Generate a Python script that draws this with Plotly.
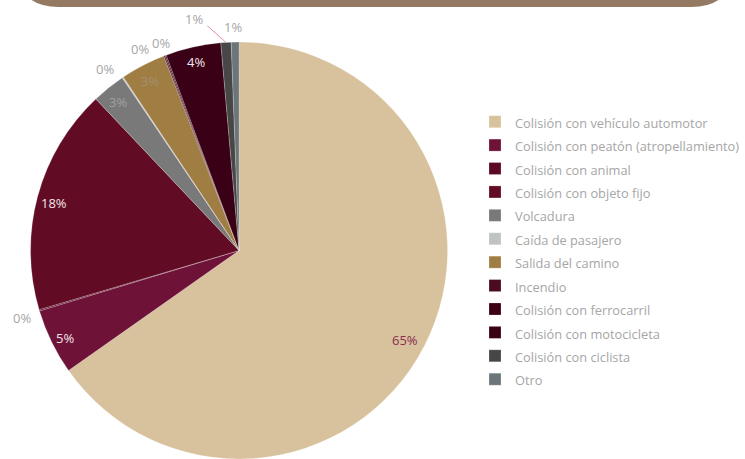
import math
import plotly.graph_objects as go

W, H = 745, 459

categories = [
    "Colisión con vehículo automotor",
    "Colisión con peatón (atropellamiento)",
    "Colisión con animal",
    "Colisión con objeto fijo",
    "Volcadura",
    "Caída de pasajero",
    "Salida del camino",
    "Incendio",
    "Colisión con ferrocarril",
    "Colisión con motocicleta",
    "Colisión con ciclista",
    "Otro",
]
values = [65.5, 5.1, 0.1, 17.6, 2.6, 0.1, 3.5, 0.1, 0.1, 4.3, 0.8, 0.6]
labels_text = ["65%", "5%", "0%", "18%", "3%", "0%", "3%", "0%", "0%", "4%", "1%", "1%"]

colors = ["#D8C29D", "#6F1238", "#5A0A26", "#620B24", "#797979", "#BFC3C3",
          "#A07E43", "#4A0A22", "#3C0017", "#3A0016", "#474747", "#6C767A"]
text_colors = ["#8B2D4F", "#F2E6EA", "#A6A6A6", "#F2E6EA", "#A0A0A0", "#A6A6A6",
               "#A09070", "#A6A6A6", "#A6A6A6", "#F2E6EA", "#A6A6A6", "#A6A6A6"]
# label placement style: radial factor and pixel nudges (dx, dy)
label_radius = [0.89, 0.92, 1.08, 0.91, 0.92, 1.09, 0.92, 1.08, 1.08, 0.93, 1.0, 1.08]
label_nudge = [(0, 0), (0, 0), (0, 0), (0, 0), (0, 0), (-6, 7),
               (0, 0), (-18, 9), (2, 3), (0, 0), (-32, -23), (-2, 2)]

FONT = "Open Sans, Lato, sans-serif"


def px(x):
    return x / W


def py(y):
    return 1 - y / H


cx, cy, r = 240, 253, 211

fig = go.Figure()
fig.add_trace(go.Pie(
    labels=[f"<span style='font-size:12.8px'>{c}</span>" for c in categories],
    values=values,
    textinfo="none",
    sort=False,
    direction="clockwise",
    rotation=0,
    marker=dict(colors=colors, line=dict(color="rgba(255,255,255,0.35)", width=0.6)),
    domain=dict(x=[px(cx - r), px(cx + r)], y=[max(0, py(cy + r)), py(cy - r)]),
    hoverinfo="percent",
))

# data labels placed from the slices' mid-angles
total = sum(values)
cum = 0.0
for i, v in enumerate(values):
    mid = (cum + v / 2) / total * 2 * math.pi
    cum += v
    sx, sy = math.sin(mid), -math.cos(mid)
    d = label_radius[i] * r
    tx = cx + sx * d + label_nudge[i][0]
    ty = cy + sy * d + label_nudge[i][1]
    if i == 10:
        ex, ey = cx + sx * r, cy + sy * r
        fig.add_annotation(
            x=px(ex), y=py(ey), xref="paper", yref="paper",
            ax=tx - ex + 12, ay=ty - ey + 5, axref="pixel", ayref="pixel",
            showarrow=True, arrowhead=0, arrowwidth=1, arrowcolor="#E58CB0",
            text="", standoff=0,
        )
    fig.add_annotation(
        x=px(tx), y=py(ty), xref="paper", yref="paper",
        text=labels_text[i], showarrow=False,
        font=dict(family=FONT, size=13, color=text_colors[i]),
        xanchor="center", yanchor="middle",
    )

# top banner (rounded bottom corners)
x0, x1, yb, rc = 17, 736, 7, 42
ytop = -60
path = (f"M {px(x0)},{py(ytop)} L {px(x0)},{py(yb - rc)} "
        f"Q {px(x0)},{py(yb)} {px(x0 + rc)},{py(yb)} "
        f"L {px(x1 - rc)},{py(yb)} "
        f"Q {px(x1)},{py(yb)} {px(x1)},{py(yb - rc)} "
        f"L {px(x1)},{py(ytop)} Z")
fig.add_shape(type="path", path=path, xref="paper", yref="paper",
              fillcolor="#957A63", line=dict(width=0), layer="above")

fig.update_layout(
    width=W, height=H,
    margin=dict(l=0, r=0, t=0, b=0),
    paper_bgcolor="white",
    plot_bgcolor="white",
    showlegend=True,
    legend=dict(
        x=px(477), y=py(105), xanchor="left", yanchor="top",
        font=dict(family=FONT, size=15.7, color="#A6A6A6"),
        tracegroupgap=0, itemwidth=30,
        bgcolor="rgba(0,0,0,0)",
    ),
)

fig.write_html("out.html", config={"displayModeBar": False},
               post_script="document.body.style.margin='0';")
